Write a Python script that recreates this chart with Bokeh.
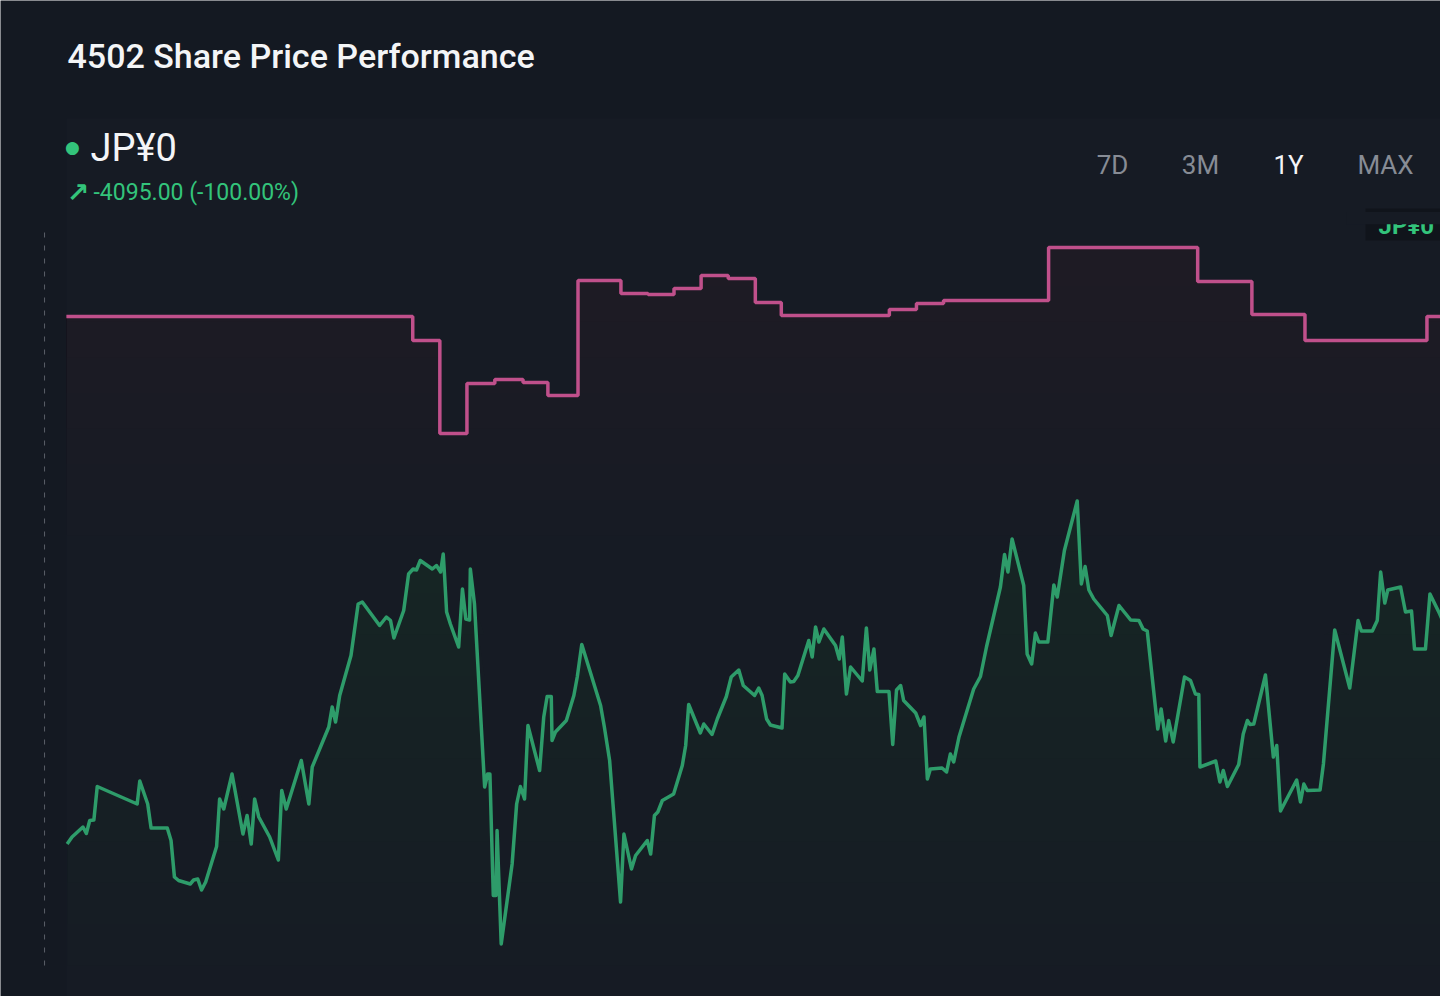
import numpy as np
from bokeh.plotting import figure
from bokeh.models import Range1d
from bokeh.core.properties import value
from bokeh.embed import file_html
from bokeh.resources import INLINE

# ---------------- data ----------------
title_text = "4502 Share Price Performance"
last_price_text = "JP¥0"
change_text = "-4095.00 (-100.00%)"
periods = ["7D", "3M", "1Y", "MAX"]
active_period = "1Y"

# step series (weekly), day offset and value
step_day = [0, 92.0, 99.2, 106.4, 113.8, 121.3, 127.9, 135.9, 147.3, 154.5, 161.4, 168.6,
            175.8, 183.0, 189.9, 218.6, 225.8, 233.0, 260.9, 300.5, 314.9, 329.0, 361.4, 366.1]
step_val = [4888, 4840, 4654, 4754, 4762, 4756, 4730, 4960, 4934, 4932, 4944, 4970,
            4964, 4916, 4890, 4902, 4914, 4920, 5026, 4958, 4892, 4840, 4888, 4888]

# share price series, day offset and price
price_day = [
    0.2, 1.5, 4.4, 5.3, 6.2, 7.3, 8.2, 18.8, 19.5, 21.6,
    22.5, 26.8, 27.8, 28.7, 29.8, 32.9, 33.8, 34.9, 35.9, 37.0,
    39.9, 40.7, 41.8, 44.0, 46.9, 48.0, 49.1, 50.0, 51.1, 54.0,
    56.3, 57.2, 58.4, 62.4, 64.4, 65.3, 69.7, 70.6, 71.5, 72.6,
    75.6, 77.5, 78.6, 83.2, 85.0, 86.1, 87.0, 89.6, 90.9, 92.1,
    93.0, 94.0, 97.2, 98.3, 99.4, 100.1, 100.4, 101.0, 102.0, 104.2,
    105.2, 106.1, 107.1, 107.3, 108.4, 111.1, 111.9, 112.5, 113.4, 114.1,
    114.4, 115.5, 118.4, 119.6, 120.6, 121.7, 122.6, 125.7, 126.8, 127.7,
    128.8, 129.0, 129.9, 132.8, 134.8, 135.7, 136.9, 141.9, 142.9, 144.3,
    147.2, 148.1, 150.1, 151.2, 154.3, 155.2, 156.2, 157.1, 158.3, 161.3,
    163.6, 164.5, 165.3, 168.4, 169.3, 171.5, 172.9, 175.3, 176.6, 178.6,
    179.8, 182.8, 183.9, 184.8, 186.0, 187.0, 190.1, 190.8, 192.3, 193.2,
    194.3, 197.2, 198.1, 199.0, 199.9, 201.2, 204.3, 205.3, 206.1, 207.2,
    208.3, 211.4, 212.5, 213.4, 214.5, 215.4, 218.5, 219.5, 220.5, 221.6,
    222.4, 225.6, 226.9, 227.8, 228.7, 229.5, 232.6, 233.8, 234.8, 235.7,
    237.1, 241.0, 242.8, 244.4, 248.1, 249.2, 250.1, 251.2, 254.3, 255.2,
    256.4, 257.4, 258.3, 260.7, 262.3, 263.2, 265.1, 268.5, 269.6, 270.6,
    271.6, 272.9, 276.5, 277.5, 279.6, 282.7, 284.9, 286.0, 287.1, 289.9,
    290.8, 292.0, 292.8, 294.0, 297.0, 298.6, 299.9, 300.8, 301.1, 305.3,
    306.4, 307.3, 308.4, 311.4, 312.6, 313.7, 314.4, 315.4, 318.5, 320.6,
    321.5, 322.5, 326.8, 327.8, 328.7, 329.6, 333.0, 333.9, 336.9, 340.9,
    343.1, 344.0, 346.9, 348.2, 349.1, 350.2, 351.0, 354.4, 355.7, 357.3,
    358.1, 361.0, 362.2, 364.8, 366.1,
]
price_val = [
    3833, 3847, 3867, 3854, 3880, 3881, 3948, 3913, 3959, 3913,
    3865, 3865, 3840, 3767, 3760, 3753, 3761, 3763, 3741, 3757,
    3828, 3923, 3903, 3973, 3853, 3890, 3833, 3923, 3887, 3847,
    3801, 3940, 3903, 4000, 3913, 3987, 4067, 4107, 4077, 4130,
    4210, 4313, 4317, 4270, 4287, 4280, 4245, 4300, 4373, 4383,
    4381, 4400, 4383, 4390, 4377, 4413, 4377, 4297, 4273, 4227,
    4343, 4283, 4281, 4383, 4313, 3947, 3973, 3973, 3730, 3730,
    3860, 3633, 3793, 3913, 3948, 3923, 4070, 3980, 4087, 4128,
    4128, 4040, 4057, 4080, 4130, 4167, 4232, 4110, 4067, 4000,
    3717, 3853, 3783, 3810, 3840, 3813, 3890, 3897, 3920, 3933,
    3990, 4030, 4112, 4055, 4073, 4052, 4083, 4128, 4167, 4181,
    4150, 4130, 4145, 4130, 4083, 4071, 4065, 4173, 4157, 4158,
    4170, 4240, 4207, 4267, 4237, 4263, 4230, 4203, 4247, 4133,
    4187, 4159, 4265, 4181, 4223, 4138, 4138, 4032, 4141, 4150,
    4120, 4095, 4070, 4087, 3963, 3983, 3985, 3977, 4013, 3997,
    4047, 4143, 4168, 4227, 4347, 4412, 4377, 4443, 4350, 4213,
    4193, 4255, 4237, 4237, 4351, 4327, 4420, 4519, 4353, 4388,
    4341, 4323, 4290, 4250, 4310, 4281, 4280, 4263, 4259, 4063,
    4103, 4039, 4080, 4037, 4167, 4160, 4133, 4132, 3987, 3999,
    3957, 3980, 3948, 3992, 4053, 4080, 4072, 4073, 4171, 4007,
    4030, 3899, 3961, 3917, 3953, 3940, 3941, 3993, 4261, 4145,
    4280, 4259, 4259, 4280, 4377, 4315, 4341, 4347, 4297, 4299,
    4223, 4223, 4333, 4293, 4270,
]
marker_day = -5.8          # dashed marker line
chart_low, chart_high = 3590, 5072   # vertical extent of the plotting area
card_top = 5284                      # top edge of the faint chart card

# ---------------- style ----------------
BG = "#141922"
CARD = "#161b24"
GREEN_LINE = "#2e9c6a"
GREEN_TXT = "#33c47b"
PINK = "#c0508b"
GRAY = "#878c95"
WHITE = "#f4f5f7"
FONT = value("Roboto")

X0, X1 = -17.5, 365.0
Y0, Y1 = 3528, 5520

p = figure(width=1440, height=996, output_backend="svg", toolbar_location=None,
           x_range=Range1d(X0, X1), y_range=Range1d(Y0, Y1),
           x_axis_location=None, y_axis_location=None,
           min_border=0)
p.grid.visible = False
p.outline_line_color = None
p.background_fill_color = BG
p.border_fill_color = BG

# faint card behind the chart
p.quad(left=[0], right=[X1 + 5], bottom=[Y0 - 5], top=[card_top],
       fill_color=CARD, line_color=None)

# pink step area (soft gradient) + line
sv = np.array(step_val, dtype=float)
for L in np.linspace(4450, 5020, 9):
    p.varea_step(x=step_day, y1=L, y2=np.maximum(sv, L), step_mode="after",
                 fill_color=PINK, fill_alpha=0.007)
p.step(x=step_day, y=step_val, mode="after", line_color=PINK, line_width=3.5)

# green price area (soft gradient) + line
gv = np.array(price_val, dtype=float)
for L in np.linspace(chart_low, 4500, 12):
    p.varea(x=price_day, y1=L, y2=np.maximum(gv, L), fill_color=GREEN_LINE, fill_alpha=0.011)
p.line(x=price_day, y=price_val, line_color=GREEN_LINE, line_width=3.5, line_join="round")

# dashed marker
p.segment(x0=[marker_day], y0=[chart_low], x1=[marker_day], y1=[chart_high],
          line_color="#5b6069", line_width=1, line_dash="5 8")

# last price tag at right edge, top half hidden above the plotting area
p.rect(x=[X1], y=[chart_high], width=150, height=32, width_units="screen",
       height_units="screen", fill_color="#10141b", line_color=None)
p.text(x=[X1], y=[chart_high], text=[last_price_text], x_offset=-62, y_offset=1,
       text_align="left", text_baseline="middle", text_font=FONT,
       text_font_style="bold", text_font_size="24px", text_color=GREEN_TXT)
p.quad(left=[X1 - 25], right=[X1 + 5], bottom=[chart_high + 0.5], top=[chart_high + 25],
       fill_color=CARD, line_color=None)

# header texts, placed by pixel offsets from the top-left corner
def txt(dx, dy, text, size, color, style="normal", align="left", font=FONT):
    p.text(x=[X0], y=[Y1], text=[text], x_offset=dx, y_offset=dy,
           text_font=font, text_font_size=size, text_color=color,
           text_font_style=style, text_align=align, text_baseline="middle")

txt(67, 55, title_text, "34px", WHITE, font=value("Roboto Medium"))
txt(72, 146, "●", "17px", GREEN_TXT, align="center", font=value("DejaVu Sans"))
txt(90, 147, last_price_text, "38px", WHITE)
txt(66, 192, "↗", "27px", GREEN_TXT, style="bold", font=value("DejaVu Sans"))
txt(93, 192, change_text, "23px", GREEN_TXT)
for cx, t in zip([1112, 1200, 1288, 1385], periods):
    txt(cx, 164, t, "26px", WHITE if t == active_period else GRAY, align="center")

html = file_html(p, INLINE, title="4502 Share Price Performance")
html = html.replace("<body>", '<body style="background:%s">' % BG, 1)
open("out.html", "w").write(html)
